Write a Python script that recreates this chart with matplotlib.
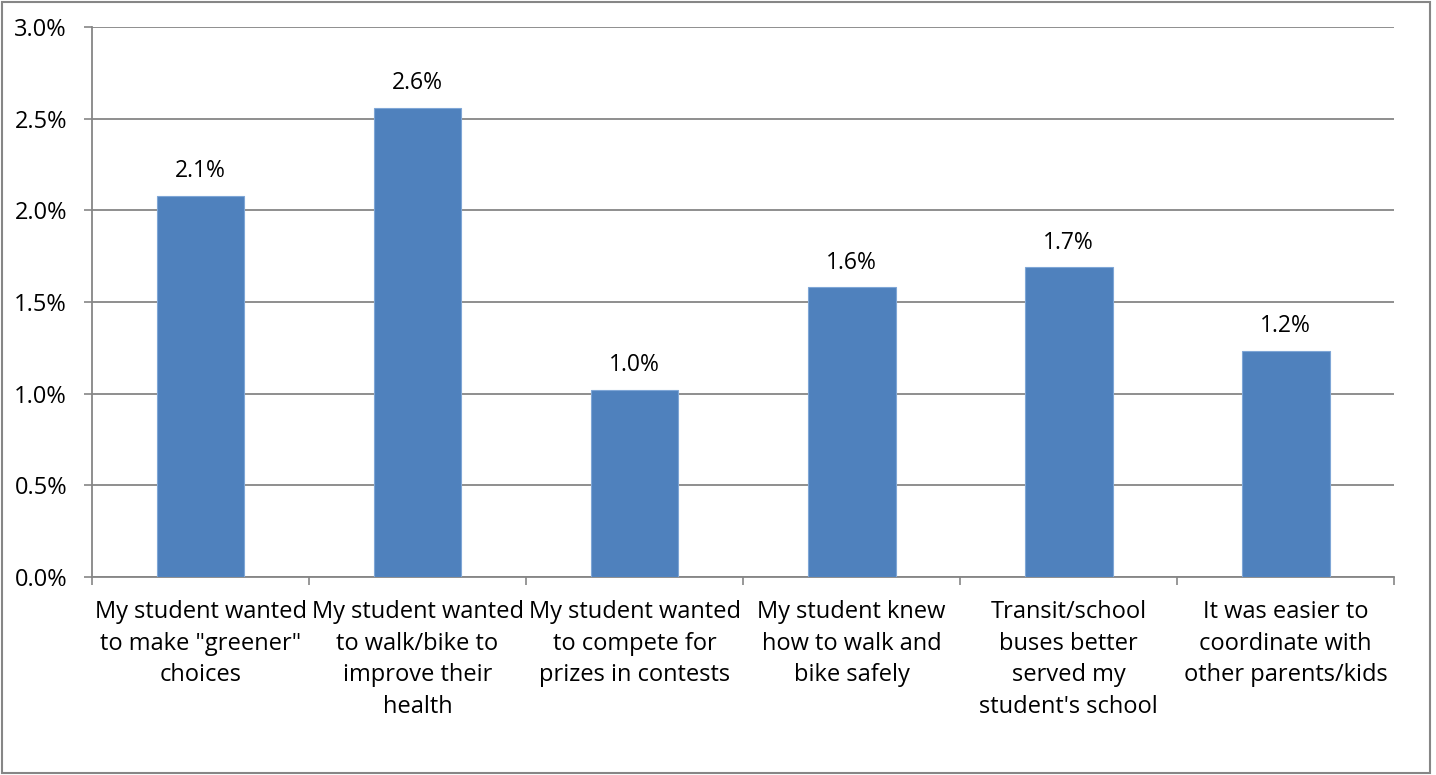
import matplotlib.pyplot as plt
from matplotlib.patches import Rectangle
import numpy as np

categories = [
    'My student wanted\nto make "greener"\nchoices',
    'My student wanted\nto walk/bike to\nimprove their\nhealth',
    'My student wanted\nto compete for\nprizes in contests',
    'My student knew\nhow to walk and\nbike safely',
    'Transit/school\nbuses better\nserved my\nstudent\'s school',
    'It was easier to\ncoordinate with\nother parents/kids',
]
values = [2.08, 2.56, 1.02, 1.58, 1.69, 1.235]
labels = ['2.1%', '2.6%', '1.0%', '1.6%', '1.7%', '1.2%']
yticks = [0.0, 0.5, 1.0, 1.5, 2.0, 2.5, 3.0]

plt.rcParams['font.family'] = ['Open Sans', 'DejaVu Sans']
gray = '#868686'

fig = plt.figure(figsize=(14.36, 7.75), dpi=100)
ax = fig.add_axes([0.0641, 0.2555, 0.9067, 0.7097])

x = np.arange(len(categories))
bars = ax.bar(x, values, width=0.405, color='#4F81BD', edgecolor='#7FA6D6', linewidth=0.8, zorder=3)
for xi, v, lab in zip(x, values, labels):
    ax.annotate(lab, (xi, v), xytext=(0, 9), textcoords='offset points',
                ha='center', va='bottom', fontsize=16.5)

ax.set_xlim(-0.5, len(categories) - 0.5)
ax.set_ylim(0, 3.0)
ax.set_yticks(yticks)
ax.set_yticklabels(['%.1f%%' % t for t in yticks], fontsize=17)
ax.set_xticks(x)
ax.set_xticklabels(categories, fontsize=17, linespacing=1.43)
ax.set_xticks(np.arange(-0.5, len(categories)), minor=True)
ax.tick_params(axis='x', which='major', length=0, pad=16.5)
ax.tick_params(axis='x', which='minor', length=6, width=1.2, color=gray)
ax.tick_params(axis='y', length=6, width=1.2, color=gray, pad=12)

ax.grid(axis='y', color=gray, linewidth=1.3, zorder=0)
ax.set_axisbelow(True)
for s in ['top', 'right']:
    ax.spines[s].set_visible(False)
for s in ['left', 'bottom']:
    ax.spines[s].set_color(gray)
    ax.spines[s].set_linewidth(1.3)

fig.patches.append(Rectangle((0.0014, 0.003), 0.9944, 0.994, transform=fig.transFigure,
                             fill=False, edgecolor=gray, linewidth=1.5))

plt.savefig('out.png', dpi=100)
plt.close()
